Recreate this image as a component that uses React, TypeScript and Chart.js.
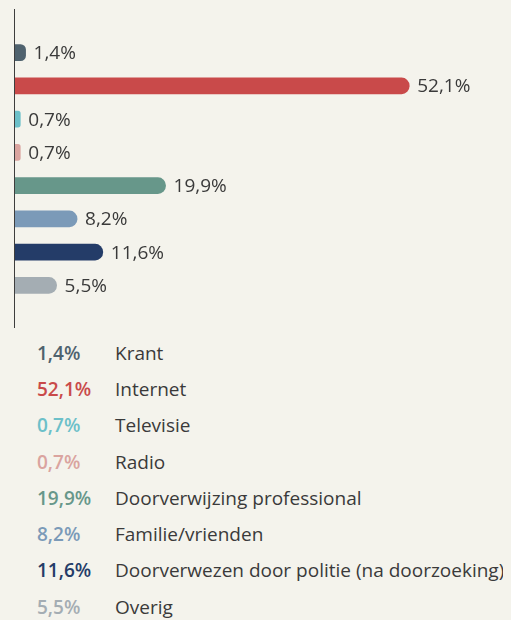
import React, { useEffect, useRef } from "react";
import { Chart, registerables } from "chart.js";

Chart.register(...registerables);

const categories = [
  "Krant",
  "Internet",
  "Televisie",
  "Radio",
  "Doorverwijzing professional",
  "Familie/vrienden",
  "Doorverwezen door politie (na doorzoeking)",
  "Overig",
];
const values = [1.4, 52.1, 0.7, 0.7, 19.9, 8.2, 11.6, 5.5];
const colors = [
  "#4f626e",
  "#c94a4a",
  "#6cc0c9",
  "#daa49f",
  "#67978a",
  "#7b9ab8",
  "#243c68",
  "#a4adb3",
];

const BG = "#f4f3ec";
const TEXT = "#3a3a3a";
const fmt = (v: number) => v.toFixed(1).replace(".", ",") + "%";

const labelPlugin = {
  id: "barLabels",
  afterDatasetsDraw(chart: any) {
    const ctx = chart.ctx;
    const meta = chart.getDatasetMeta(0);
    ctx.save();
    ctx.font = "19px 'Open Sans'";
    ctx.fillStyle = TEXT;
    ctx.textBaseline = "middle";
    ctx.textAlign = "left";
    meta.data.forEach((bar: any, i: number) => {
      ctx.fillText(fmt(values[i]), bar.x + 8, bar.y + 1);
    });
    ctx.restore();
  },
};

const axisLinePlugin = {
  id: "axisLine",
  afterDatasetsDraw(chart: any) {
    const ctx = chart.ctx;
    const x = chart.scales.x.getPixelForValue(0);
    ctx.save();
    ctx.strokeStyle = "#3d3d3d";
    ctx.lineWidth = 1;
    ctx.beginPath();
    ctx.moveTo(Math.round(x) - 0.5, 1);
    ctx.lineTo(Math.round(x) - 0.5, 320);
    ctx.stroke();
    ctx.restore();
  },
};

function BarChart() {
  const ref = useRef<HTMLCanvasElement | null>(null);
  useEffect(() => {
    if (!ref.current) return;
    const chart = new Chart(ref.current, {
      type: "bar",
      data: {
        labels: categories,
        datasets: [
          {
            data: values,
            backgroundColor: colors,
            borderWidth: 0,
            barThickness: 16,
            borderRadius: 8,
            borderSkipped: "start",
          },
        ],
      },
      options: {
        indexAxis: "y",
        animation: false,
        responsive: true,
        maintainAspectRatio: false,
        layout: { padding: { left: 7, right: 34, top: 28, bottom: 28 } },
        plugins: { legend: { display: false }, tooltip: { enabled: false } },
        scales: {
          x: { display: false, min: 0, max: 60 },
          y: { display: false },
        },
      },
      plugins: [labelPlugin, axisLinePlugin],
    });
    return () => chart.destroy();
  }, []);
  return (
    <div style={{ position: "relative", width: 495, height: 322 }}>
      <canvas ref={ref} />
    </div>
  );
}

export default function App() {
  useEffect(() => {
    document.body.style.background = BG;
    document.documentElement.style.background = BG;
  }, []);
  return (
    <div style={{ background: BG, fontFamily: "'Open Sans', sans-serif" }}>
      <BarChart />
      <div style={{ marginTop: 4.5 }}>
        {categories.map((c, i) => (
          <div
            key={c}
            style={{
              height: 36.3,
              display: "flex",
              alignItems: "center",
              fontSize: 19,
              whiteSpace: "nowrap",
            }}
          >
            <span
              style={{
                color: colors[i],
                fontWeight: 600,
                width: 78,
                paddingLeft: 29,
                boxSizing: "content-box",
                display: "inline-block",
                flexShrink: 0,
              }}
            >
              {fmt(values[i])}
            </span>
            <span style={{ color: TEXT, flexShrink: 0 }}>{c}</span>
          </div>
        ))}
      </div>
    </div>
  );
}
